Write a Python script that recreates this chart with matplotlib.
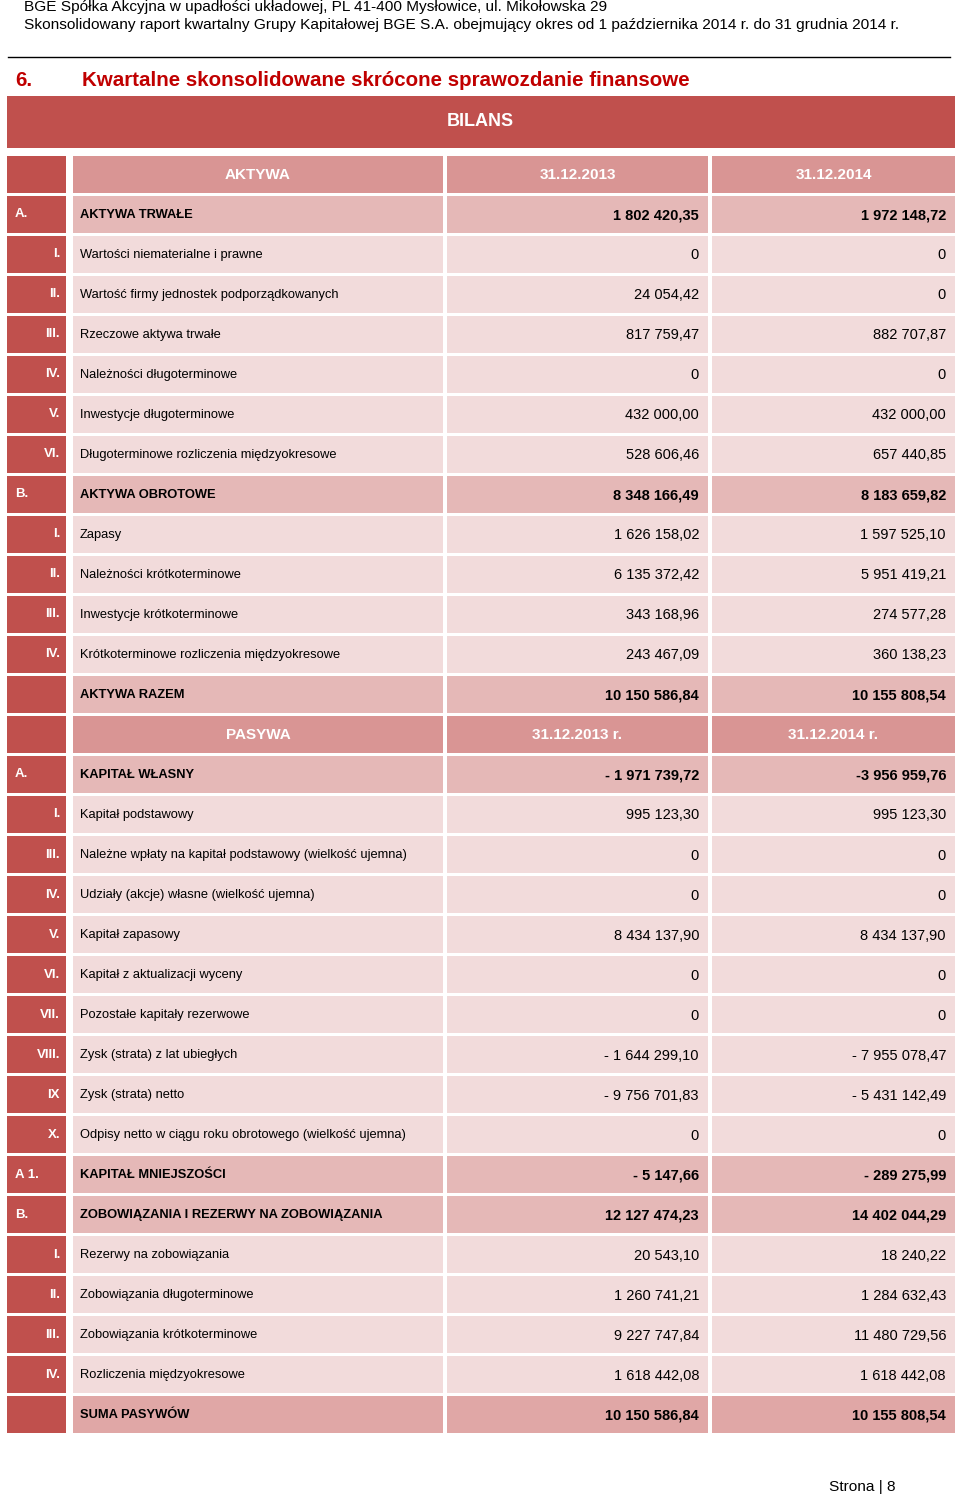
import matplotlib.pyplot as plt
from matplotlib.patches import Rectangle

plt.rcParams['font.family'] = ['Liberation Sans', 'DejaVu Sans']

# Table content
codes = ['', 'A.', 'I.', 'II.', 'III.', 'IV.', 'V.', 'VI.', 'B.', 'I.', 'II.', 'III.', 'IV.', '',
         '', 'A.', 'I.', 'III.', 'IV.', 'V.', 'VI.', 'VII.', 'VIII.', 'IX', 'X.', 'A 1.', 'B.',
         'I.', 'II.', 'III.', 'IV.', '']
labels = ['AKTYWA', 'AKTYWA TRWAŁE', 'Wartości niematerialne i prawne',
          'Wartość firmy jednostek podporządkowanych', 'Rzeczowe aktywa trwałe',
          'Należności długoterminowe', 'Inwestycje długoterminowe',
          'Długoterminowe rozliczenia międzyokresowe', 'AKTYWA OBROTOWE', 'Zapasy',
          'Należności krótkoterminowe', 'Inwestycje krótkoterminowe',
          'Krótkoterminowe rozliczenia międzyokresowe', 'AKTYWA RAZEM',
          'PASYWA', 'KAPITAŁ WŁASNY', 'Kapitał podstawowy',
          'Należne wpłaty na kapitał podstawowy (wielkość ujemna)',
          'Udziały (akcje) własne (wielkość ujemna)', 'Kapitał zapasowy',
          'Kapitał z aktualizacji wyceny', 'Pozostałe kapitały rezerwowe',
          'Zysk (strata) z lat ubiegłych', 'Zysk (strata) netto',
          'Odpisy netto w ciągu roku obrotowego (wielkość ujemna)', 'KAPITAŁ MNIEJSZOŚCI',
          'ZOBOWIĄZANIA I REZERWY NA ZOBOWIĄZANIA', 'Rezerwy na zobowiązania',
          'Zobowiązania długoterminowe', 'Zobowiązania krótkoterminowe',
          'Rozliczenia międzyokresowe', 'SUMA PASYWÓW']
val_2013 = ['31.12.2013', '1 802 420,35', '0', '24 054,42', '817 759,47', '0', '432 000,00',
            '528 606,46', '8 348 166,49', '1 626 158,02', '6 135 372,42', '343 168,96',
            '243 467,09', '10 150 586,84', '31.12.2013 r.', '- 1 971 739,72', '995 123,30',
            '0', '0', '8 434 137,90', '0', '0', '- 1 644 299,10', '- 9 756 701,83', '0',
            '- 5 147,66', '12 127 474,23', '20 543,10', '1 260 741,21', '9 227 747,84',
            '1 618 442,08', '10 150 586,84']
val_2014 = ['31.12.2014', '1 972 148,72', '0', '0', '882 707,87', '0', '432 000,00',
            '657 440,85', '8 183 659,82', '1 597 525,10', '5 951 419,21', '274 577,28',
            '360 138,23', '10 155 808,54', '31.12.2014 r.', '-3 956 959,76', '995 123,30',
            '0', '0', '8 434 137,90', '0', '0', '- 7 955 078,47', '- 5 431 142,49', '0',
            '- 289 275,99', '14 402 044,29', '18 240,22', '1 284 632,43', '11 480 729,56',
            '1 618 442,08', '10 155 808,54']
kinds = ['head', 'bold', 'item', 'item', 'item', 'item', 'item', 'item', 'bold', 'item', 'item',
         'item', 'item', 'bold', 'head', 'bold', 'item', 'item', 'item', 'item', 'item', 'item',
         'item', 'item', 'item', 'bold', 'bold', 'item', 'item', 'item', 'item', 'total']

fills = {'head': '#D99594', 'bold': '#E5B8B7', 'item': '#F2DBDB', 'total': '#E0A7A6'}
dark = '#C0504D'

fig = plt.figure(figsize=(9.6, 14.98), dpi=100)
ax = fig.add_axes([0, 0, 1, 1])
ax.set_xlim(0, 960)
ax.set_ylim(1498, 0)
ax.axis('off')

# Page header
ax.text(24, 7, 'BGE Spółka Akcyjna w upadłości układowej, PL 41-400 Mysłowice, ul. Mikołowska 29',
        fontsize=11.1, va='center')
ax.text(24, 25, 'Skonsolidowany raport kwartalny Grupy Kapitałowej BGE S.A. obejmujący okres '
        'od 1 października 2014 r. do 31 grudnia 2014 r.', fontsize=11.1, va='center')
ax.plot([8, 950], [57, 57], color='black', lw=1)
ax.text(15, 80, '6.', fontsize=14.8, weight='bold', color='#C00000', va='center')
ax.text(82, 80, 'Kwartalne skonsolidowane skrócone sprawozdanie finansowe', fontsize=14.8,
        weight='bold', color='#C00000', va='center')

# BILANS band
ax.add_patch(Rectangle((7, 96), 948, 52, color=dark, lw=0))
ax.text(480, 121, 'BILANS', fontsize=13, weight='bold', color='white', ha='center', va='center')

# Table
top, step, h = 174, 40.03, 37
cols = [(7, 66), (73, 443), (447, 708), (712, 955)]
for i, kind in enumerate(kinds):
    yc = top + i * step
    y0 = yc - h / 2
    ax.add_patch(Rectangle((cols[0][0], y0), cols[0][1] - cols[0][0], h, color=dark, lw=0))
    for x0, x1 in cols[1:]:
        ax.add_patch(Rectangle((x0, y0), x1 - x0, h, color=fills[kind], lw=0))

    if kind == 'head':
        for (x0, x1), s in zip(cols[1:], [labels[i], val_2013[i], val_2014[i]]):
            ax.text((x0 + x1) / 2, yc + 1, s, fontsize=11, weight='bold', color='white',
                    ha='center', va='center')
        continue

    wt = 'normal' if kind == 'item' else 'bold'
    code = codes[i]
    if kind == 'item':
        ax.text(60, yc, code, fontsize=9.5, weight='bold', color='white', ha='right', va='center')
    else:
        ax.text(15, yc, code, fontsize=9.5, weight='bold', color='white', ha='left', va='center')
    ax.text(80, yc + 0.5, labels[i], fontsize=9.3, weight=wt, color='black', va='center')
    ax.text(699, yc + 1, val_2013[i], fontsize=10.5, weight=wt, color='black', ha='right',
            va='center')
    ax.text(946, yc + 1, val_2014[i], fontsize=10.5, weight=wt, color='black', ha='right',
            va='center')

# Footer
ax.text(829, 1487, 'Strona | 8', fontsize=11.1, va='center')

fig.savefig('out.png', dpi=100)
